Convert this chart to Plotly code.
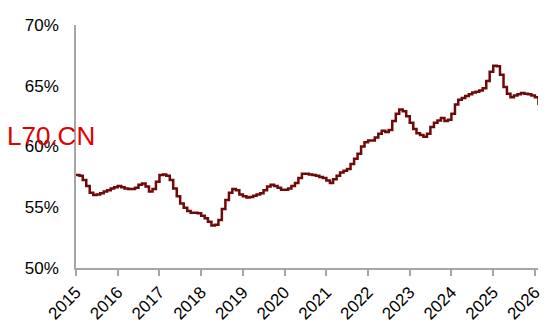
import pandas as pd
import plotly.graph_objects as go

start_month = "2015-01-01"
values = [
    57.65, 57.6, 57.25, 56.75, 56.2, 56.0, 56.05, 56.15, 56.3, 56.4, 56.55, 56.65,
    56.75, 56.65, 56.55, 56.5, 56.5, 56.6, 56.85, 56.95, 56.7, 56.3, 56.5, 57.1,
    57.65, 57.7, 57.6, 57.25, 56.55, 55.9, 55.3, 54.95, 54.7, 54.55, 54.55, 54.5,
    54.3, 54.1, 53.8, 53.5, 53.55, 53.95, 54.85, 55.6, 56.2, 56.5, 56.4, 56.05,
    55.9, 55.8, 55.85, 55.95, 56.05, 56.15, 56.4, 56.7, 56.85, 56.75, 56.6, 56.45,
    56.45, 56.55, 56.75, 57.0, 57.4, 57.75, 57.75, 57.7, 57.65, 57.6, 57.5, 57.4,
    57.2, 57.0, 57.3, 57.6, 57.85, 58.0, 58.15, 58.55, 59.0, 59.4, 60.0, 60.35,
    60.5, 60.5, 60.75, 61.05, 61.3, 61.2, 61.35, 62.1, 62.7, 63.05, 62.9, 62.5,
    61.95, 61.45, 61.1, 60.95, 60.8, 61.05, 61.6, 61.95, 62.15, 62.35, 62.1, 62.2,
    62.7, 63.45, 63.85, 64.0, 64.15, 64.3, 64.45, 64.5, 64.6, 64.8, 65.4, 66.15,
    66.65, 66.6, 65.9, 64.9, 64.35, 64.05, 64.2, 64.3, 64.4, 64.35, 64.3, 64.2,
    64.05, 63.4,
]
dates = pd.date_range(start_month, periods=len(values), freq="MS")

y_ticks = [50, 55, 60, 65, 70]
y_tick_labels = ["50%", "55%", "60%", "65%", "70%"]
x_ticks = [f"{y}-01-01" for y in range(2015, 2027)]
x_tick_labels = [str(y) for y in range(2015, 2027)]
title_text = "L70.CN"

fig = go.Figure()
fig.add_trace(go.Scatter(
    x=dates, y=values, mode="lines", line_shape="hv",
    line=dict(color="#6E0A0A", width=2.5), showlegend=False,
))

font = "Liberation Sans, Arial, sans-serif"
fig.update_layout(
    width=550, height=332,
    margin=dict(l=76, r=12, t=25, b=64, autoexpand=False),
    paper_bgcolor="white", plot_bgcolor="white",
    font=dict(family=font, size=17, color="black"),
    xaxis=dict(
        range=["2015-01-01", "2026-01-28"],
        tickvals=x_ticks, ticktext=x_tick_labels, tickangle=-45,
        showline=True, linecolor="#A6A6A6", linewidth=1.5,
        ticks="outside", ticklen=6, tickcolor="#A6A6A6", tickwidth=1.5,
        showgrid=False, zeroline=False, automargin=False,
        ticklabelstandoff=0,
        tickfont=dict(size=17, family=font),
    ),
    yaxis=dict(
        range=[50, 70], tickvals=y_ticks, ticktext=y_tick_labels,
        showline=True, linecolor="#A6A6A6", linewidth=1.5,
        ticks="", showgrid=False, zeroline=False, automargin=False,
        ticklabelstandoff=12,
        tickfont=dict(size=17, family=font),
    ),
    annotations=[dict(
        text=title_text, xref="paper", yref="paper",
        x=-0.054, y=0.543, xanchor="center", yanchor="middle",
        showarrow=False, font=dict(size=26, color="#E00000", family=font),
    )],
)

fig.write_html("out.html")
